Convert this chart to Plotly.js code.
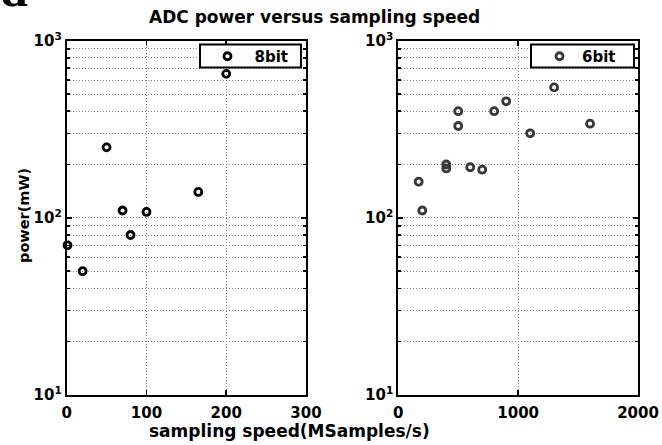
<!DOCTYPE html>
<html><head><meta charset="utf-8">
<script src="https://cdn.plot.ly/plotly-3.0.1.min.js"></script>
<style>html,body{margin:0;padding:0;background:#fff;}#chart{width:662px;height:445px;}</style>
</head><body><div id="chart"></div>
<script>
const speed8 = [1, 20, 50, 70, 80, 100, 165, 200];
const power8 = [70, 50, 250, 110, 80, 108, 140, 650];
const speed6 = [170, 200, 400, 400, 500, 500, 600, 700, 800, 900, 1100, 1300, 1600];
const power6 = [160, 110, 200, 190, 400, 330, 193, 187, 400, 455, 300, 545, 340];
const yTickVals = [10, 100, 1000];
const yTickText = ['10<sup>1</sup>', '10<sup>2</sup>', '10<sup>3</sup>'];
const name8 = '8bit', name6 = '6bit';
const titleText = 'ADC power versus sampling speed';
const xTitle = 'sampling speed(MSamples/s)';
const yTitle = 'power(mW)';

const FF = 'DejaVu Sans';
const tickFont = {family: FF, size: 15, color: '#000', weight: 'bold'};
const GRID = '#888', GDASH = '1px,2px';

const traces = [
  {x: speed8, y: power8, name: name8, mode: 'markers', type: 'scatter', xaxis: 'x', yaxis: 'y',
   cliponaxis: false, legend: 'legend',
   marker: {symbol: 'circle-open', size: 7, color: '#000', line: {width: 2.8, color: '#000'}}},
  {x: speed6, y: power6, name: name6, mode: 'markers', type: 'scatter', xaxis: 'x2', yaxis: 'y2',
   cliponaxis: false, legend: 'legend2',
   marker: {symbol: 'circle-open', size: 7, color: '#383838', line: {width: 2.8, color: '#383838'}}}
];

function xa(domain, range, dtick, anchor) {
  return {domain, range, dtick, anchor, showline: true, linewidth: 2, linecolor: '#000', mirror: 'ticks',
    ticks: 'inside', ticklen: 5, tickwidth: 1.5, tickcolor: '#000', tickfont: tickFont,
    showgrid: true, gridcolor: GRID, griddash: GDASH, gridwidth: 1, zeroline: false,
    ticklabelstandoff: 3, fixedrange: true};
}
function ya(domain, anchor) {
  return {domain, anchor, type: 'log', range: [1, 3], tickvals: yTickVals, ticktext: yTickText,
    showline: true, linewidth: 2, linecolor: '#000', mirror: 'ticks',
    ticks: 'inside', ticklen: 5, tickwidth: 1.5, tickcolor: '#000', tickfont: tickFont,
    showgrid: true, gridcolor: GRID, griddash: GDASH, gridwidth: 1, zeroline: false,
    ticklabelstandoff: 0,
    minor: {dtick: 'D1', showgrid: true, gridcolor: GRID, griddash: GDASH, gridwidth: 1,
            ticks: 'inside', ticklen: 3, tickcolor: '#000'}};
}
const yd = [50/445, 1 - 40.7/445];
const legFont = {family: FF, size: 15, color: '#000', weight: 'bold'};
const legCommon = {yanchor: 'middle', xanchor: 'left', bgcolor: 'rgba(0,0,0,0)', borderwidth: 0,
  font: legFont};
const P = v => 1 - v/445;
const layout = {
  width: 662, height: 445, autosize: false,
  margin: {l: 0, r: 0, t: 0, b: 0},
  paper_bgcolor: '#fff', plot_bgcolor: '#fff',
  showlegend: true,
  xaxis: xa([66.7/662, 306/662], [0, 300], 100, 'y'),
  yaxis: ya(yd, 'x'),
  xaxis2: xa([398.3/662, 638/662], [0, 2000], 1000, 'y2'),
  yaxis2: ya(yd, 'x2'),
  legend: Object.assign({x: 200.5/662, y: P(56.5), itemwidth: 44}, legCommon),
  legend2: Object.assign({x: 537/662, y: P(56.5), itemwidth: 35}, legCommon),
  shapes: [
    {type: 'rect', xref: 'paper', yref: 'paper', x0: 200/662, x1: 301/662, y0: P(67.5), y1: P(44.5),
     fillcolor: '#fff', line: {color: '#000', width: 2}, layer: 'above'},
    {type: 'rect', xref: 'paper', yref: 'paper', x0: 531/662, x1: 634/662, y0: P(67.5), y1: P(44.5),
     fillcolor: '#fff', line: {color: '#000', width: 2}, layer: 'above'}
  ],
  annotations: [
    {text: titleText, xref: 'paper', yref: 'paper', x: 147/662, y: P(17), xanchor: 'left', yanchor: 'middle',
     showarrow: false, font: {family: FF, size: 17, color: '#000', weight: 'bold'}},
    {text: xTitle, xref: 'paper', yref: 'paper', x: 147/662, y: P(431), xanchor: 'left', yanchor: 'middle',
     showarrow: false, font: {family: FF, size: 17, color: '#000', weight: 'bold'}},
    {text: yTitle, xref: 'paper', yref: 'paper', x: 24/662, y: P(216), xanchor: 'center', yanchor: 'middle',
     textangle: -90, showarrow: false, font: {family: FF, size: 14.5, color: '#000', weight: 'bold'}},
    {text: 'd', xref: 'paper', yref: 'paper', x: -2/662, y: P(19), xanchor: 'left', yanchor: 'bottom',
     showarrow: false, font: {family: 'Liberation Serif', size: 50, color: '#000', weight: 'bold'}}
  ]
};
Plotly.newPlot('chart', traces, layout, {staticPlot: true, displayModeBar: false});
</script>
</body></html>
